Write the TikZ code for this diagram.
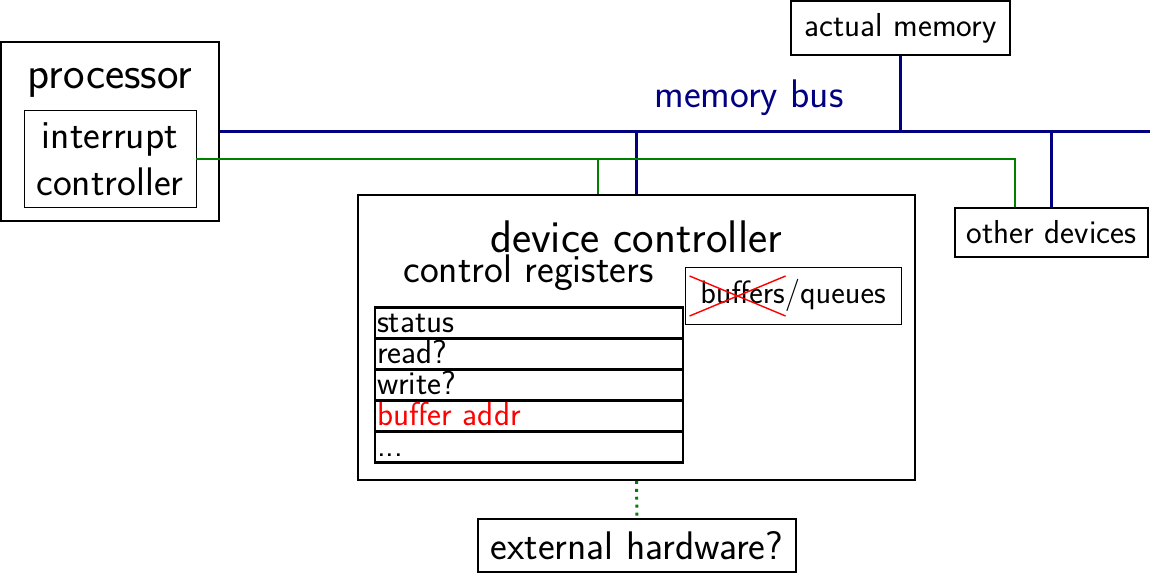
\documentclass[tikz,border=0pt]{standalone}
\usetikzlibrary{positioning, calc}

\begin{document}
\begin{tikzpicture}[
    x=0.02cm, y=-0.02cm,
    font=\sffamily,
    bigFont/.style={font=\sffamily\fontsize{26}{30}\selectfont},
    midFont/.style={font=\sffamily\fontsize{22.7}{26.7}\selectfont},
    smallFont/.style={font=\sffamily\fontsize{18.9}{22}\selectfont},
    box/.style={
        rectangle,
        draw,
        line width=1.1pt,
        inner sep=0pt
    },
    thinBox/.style={
        rectangle,
        draw,
        line width=0.5pt,
        inner sep=0pt
    },
    regRow/.style={
        rectangle,
        draw,
        line width=1.3pt,
        outer sep=0pt,
        minimum width=6.16cm,
        text width=6.08cm,
        inner xsep=0.04cm,
        inner ysep=0pt,
        text height=0.5cm,
        text depth=0.12cm,
        align=left,
        smallFont
    },
    bus/.style={draw=blue!50!black, line width=2.2pt},
    irq/.style={draw=green!50!black, line width=1.1pt}
]
\useasboundingbox (0,0) rectangle (1150,573);

% CPU side
\node[box, minimum width=4.36cm, minimum height=3.58cm] (proc) at (110,131.5) {};
\node[bigFont, anchor=base] (procLabel) at (110,89) {processor};
\node[thinBox, midFont, align=center, minimum width=3.44cm, minimum height=1.94cm] (intctl) at (110,159) {interrupt\\controller};

% memory and other devices
\node[box, smallFont, minimum width=4.38cm, minimum height=1.08cm] (mem) at (900.5,28) {actual memory};
\node[box, smallFont, minimum width=3.86cm, minimum height=0.98cm] (other) at (1051.5,232.5) {other devices};

% device controller
\node[box, minimum width=11.14cm, minimum height=5.7cm] (devctl) at (636.5,337.5) {};
\node[bigFont, anchor=base] (devLabel) at (636,253) {device controller};
\node[midFont, anchor=base] (regLabel) at (528.5,283) {control registers};

\node[regRow] (rStatus) at (529,323) {status};
\node[regRow, below=0pt of rStatus] (rRead) {read?};
\node[regRow, below=0pt of rRead] (rWrite) {write?};
\node[regRow, below=0pt of rWrite, text=red] (rAddr) {buffer addr};
\node[regRow, below=0pt of rAddr] (rMore) {...};

\node[thinBox, font=\sffamily\fontsize{18.4}{22}\selectfont, minimum width=4.32cm, minimum height=1.14cm] (bufq) at (793,295.5) {buffers/queues};
\draw[red, line width=0.8pt] ($(bufq.west)+(5,-19.5)$) -- ($(bufq.west)+(101,20.5)$);
\draw[red, line width=0.8pt] ($(bufq.west)+(5,20.5)$) -- ($(bufq.west)+(101,-19.5)$);

\node[box, midFont, minimum width=6.36cm, minimum height=1.06cm] (ext) at (637,545.5) {external hardware?};

% memory bus
\coordinate (busEnd) at (1150,131.5);
\draw[bus] (proc.east) -- (busEnd);
\draw[bus] (devctl.north) -- (devctl.north |- busEnd);
\draw[bus] (mem.south) -- (mem.south |- busEnd);
\draw[bus] (other.north) -- (other.north |- busEnd);
\node[midFont, text=blue!50!black, anchor=base] (busLabel) at (749,108) {memory bus};

% interrupt lines
\coordinate (devTap) at ($(devctl.north)+(-38.5,0)$);
\draw[irq] (intctl.east) -| ($(other.north)+(-36.5,0)$);
\draw[irq] (devTap |- intctl.east) -- (devTap);

\draw[green!50!black, line width=1.7pt, dash pattern=on 1.7pt off 2.8pt] (devctl.south) -- (ext.north);

\end{tikzpicture}
\end{document}
